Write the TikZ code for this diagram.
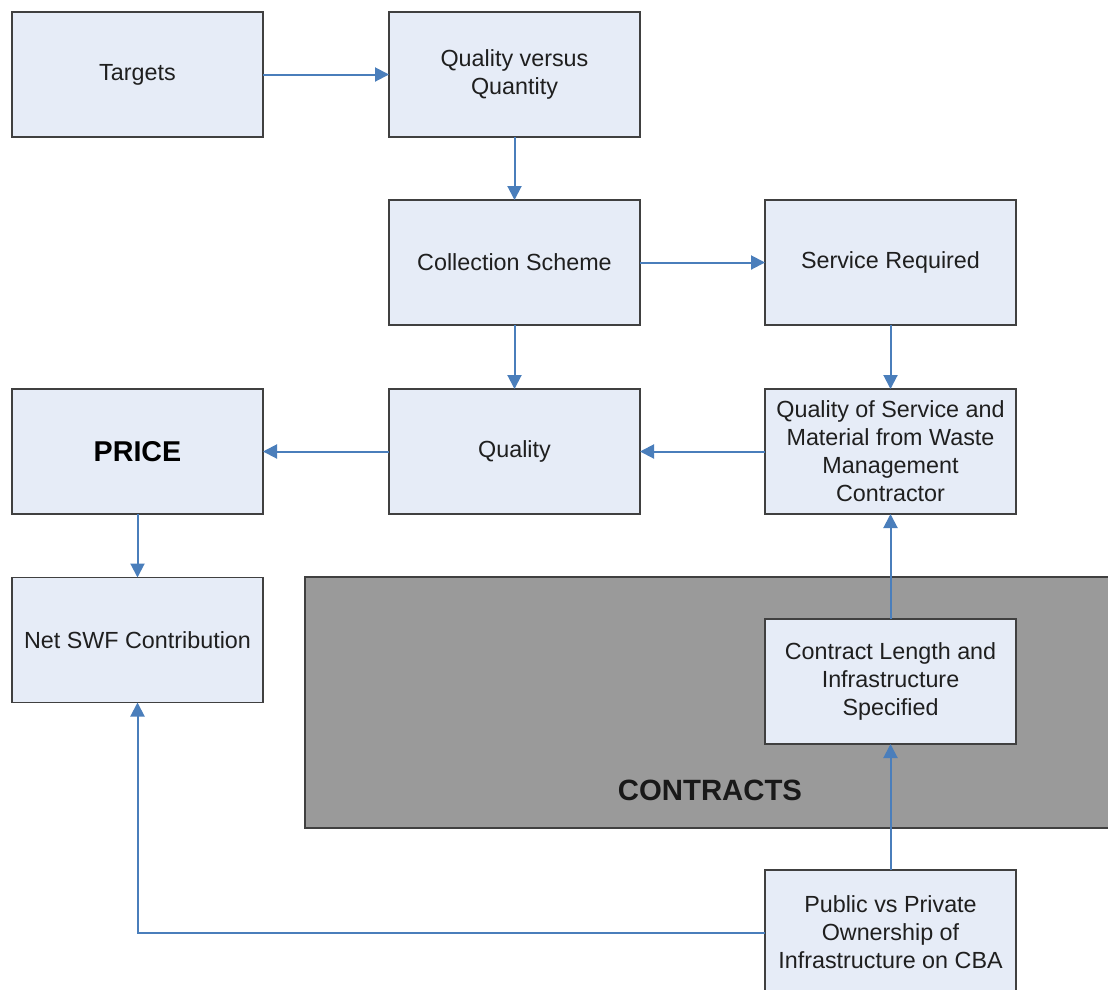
\documentclass[tikz,border=0pt]{standalone}
\usepackage{fontspec}
\setmainfont{Liberation Sans}
\usetikzlibrary{arrows.meta}
\definecolor{boxfill}{RGB}{230,236,247}
\definecolor{flowblue}{RGB}{74,126,187}
\definecolor{contractgray}{RGB}{154,154,154}
\begin{document}
\begin{tikzpicture}[x=0.75pt,y=-0.75pt,
  box/.style={draw=black!75,line width=1.4pt,fill=boxfill,rectangle,
    minimum width=188.25pt,minimum height=93.75pt,outer sep=0pt,inner sep=0pt,
    align=center,font=\fontsize{17.5}{21}\selectfont,text=black!88},
  flow/.style={draw=flowblue,line width=1.5pt,-{Triangle[length=10.5pt,width=10.5pt]}}]
\useasboundingbox (0,0) rectangle (1108,990);
\clip (0,0) rectangle (1108,990);
\fill[white] (0,0) rectangle (1108,990);

% contracts panel
\node[draw=black!75,line width=1.4pt,fill=contractgray,rectangle,outer sep=0pt,
  minimum width=612pt,minimum height=188.25pt,anchor=north west] (panel) at (305,577) {};
\node[font=\fontsize{22}{26}\selectfont\bfseries,text=black!90] (ptitle) at (710,790) {CONTRACTS};

% boxes
\node[box] (targets) at (137.5,74.5) {Targets};
\node[box] (qvq) at (514.5,74.5) {Quality versus\\Quantity};
\node[box] (coll) at (514.5,262.5) {Collection Scheme};
\node[box] (serv) at (890.5,262.5) {Service Required};
\node[box,font=\fontsize{21.5}{26}\selectfont\bfseries,text=black] (price) at (137.5,451.5) {PRICE};
\node[box] (qual) at (514.5,451.5) {Quality};
\node[box] (qos) at (890.5,451.5) {Quality of Service and\\Material from Waste\\Management\\Contractor};
\node[box] (net) at (137.5,640) {Net SWF Contribution};
\node[box] (clen) at (890.5,681.5) {Contract Length and\\Infrastructure\\Specified};
\node[box] (pub) at (890.5,932.5) {Public vs Private\\Ownership of\\Infrastructure on CBA};

% connectors
\draw[flow] (targets) -- (qvq);
\draw[flow] (qvq) -- (coll);
\draw[flow] (coll) -- (serv);
\draw[flow] (coll) -- (qual);
\draw[flow] (serv) -- (qos);
\draw[flow] (qos) -- (qual);
\draw[flow] (qual) -- (price);
\draw[flow] (price) -- (net);
\draw[flow] (clen) -- (qos);
\draw[flow] (pub) -- (clen);
\draw[flow] (pub.west) -| (net.south);
\end{tikzpicture}
\end{document}
